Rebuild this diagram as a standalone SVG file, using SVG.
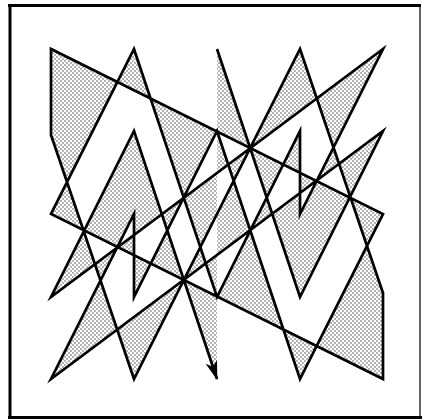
<svg xmlns="http://www.w3.org/2000/svg" width="423" height="420" viewBox="0 0 423 420">
  <defs>
    <pattern id="stipple" width="4" height="4" patternUnits="userSpaceOnUse">
      <rect width="4" height="4" fill="#ffffff"/>
      <circle cx="1" cy="1" r="0.8" fill="#555"/>
      <circle cx="3" cy="3" r="0.8" fill="#555"/>
    </pattern>
    <marker id="arrow" markerUnits="userSpaceOnUse" markerWidth="22" markerHeight="16" viewBox="-20 -8 22 16" refX="0" refY="0" orient="auto">
      <path d="M1,0 L-18,-6 L-13,0 L-18,6 Z" fill="#000"/>
    </marker>
    <style>
      .frame { fill: none; stroke: #000; }
      .curve { fill: none; stroke: #000; stroke-width: 2.7; stroke-linejoin: miter; stroke-miterlimit: 20; }
      .shade { fill: url(#stipple); fill-rule: evenodd; stroke: none; }
    </style>
  </defs>
  <rect width="423" height="420" fill="#fff"/>
  <g id="frame">
    <line class="frame" x1="8" y1="5.5" x2="421" y2="5.5" stroke-width="3"/>
    <line class="frame" x1="10" y1="4" x2="10" y2="419" stroke-width="3"/>
    <line class="frame" x1="8" y1="417.5" x2="422" y2="417.5" stroke-width="3"/>
    <line class="frame" x1="420" y1="4" x2="420" y2="416" stroke-width="1.2"/>
  </g>
  <g id="shading">
    <path class="shade" d="M217,49 L300,297 L383,131 L51,379 L134,214 L134,297 L217,131 L300,379 L383,214 L51,49 L51,135 L134,379 L300,49 L383,293 L383,379 L51,214 L134,49 L217,297 L300,131 L300,214 L383,49 L51,297 L134,131 L217,379 Z"/>
  </g>
  <g id="connectors">
    <path class="curve" marker-end="url(#arrow)" d="M217,49 L300,297 L383,131 L51,379 L134,214 L134,297 L217,131 L300,379 L383,214 L51,49 L51,135 L134,379 L300,49 L383,293 L383,379 L51,214 L134,49 L217,297 L300,131 L300,214 L383,49 L51,297 L134,131 L217,379"/>
  </g>
</svg>
